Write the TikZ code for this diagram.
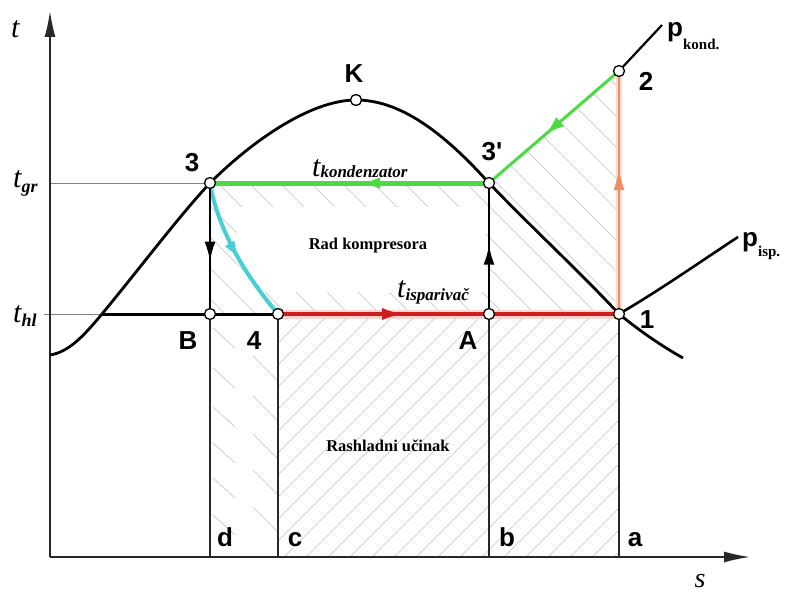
\documentclass[tikz,border=0pt]{standalone}
\usepackage{fontspec}
\setmainfont{Liberation Serif}
\setsansfont{Liberation Sans}
\usetikzlibrary{arrows.meta,decorations.markings}
\definecolor{grn}{RGB}{75,218,65}
\definecolor{grnd}{RGB}{60,200,50}
\definecolor{cyn}{RGB}{70,208,212}
\definecolor{redl}{RGB}{205,30,30}
\definecolor{orng}{RGB}{240,140,100}
\definecolor{hatchc}{RGB}{190,190,190}
\definecolor{axc}{RGB}{40,40,40}
\newcommand\tlab[3]{{\fontsize{30}{30}\selectfont\itshape t}\raisebox{-#3}{\fontsize{#2}{#2}\selectfont\itshape\bfseries #1}}
\begin{document}
\begin{tikzpicture}[x=1pt,y=-1pt,
  lbl/.style={font=\sffamily\bfseries\fontsize{26}{26}\selectfont, inner sep=0pt},
  txt/.style={font=\bfseries\fontsize{16.5}{16.5}\selectfont, inner sep=0pt},
  ptc/.style={circle,draw=black,fill=white,line width=1.3pt,minimum size=11pt,inner sep=0pt},
  hatchline/.style={hatchc,line width=0.55pt},
  thinline/.style={gray,line width=0.6pt},
  vline/.style={axc,line width=1.8pt},
  curveline/.style={black,line width=2.8pt},
  axisline/.style={axc,line width=1.6pt,-{Latex[length=26pt,width=11pt]}},
  midarr/.style 2 args={postaction={decorate},decoration={markings,mark=at position #1 with {\arrow{#2}}}}
]
\useasboundingbox (0,0) rectangle (787,594);
% key points
\coordinate (p3) at (210,183);
\coordinate (p3p) at (489,183);
\coordinate (pK) at (356,100);
\coordinate (p2) at (619,71);
\coordinate (p1) at (619,314);
\coordinate (pB) at (210,314);
\coordinate (p4) at (278,314);
\coordinate (pA) at (489,314);
\coordinate (pd) at (210,557);
\coordinate (pc) at (278,557);
\coordinate (pb) at (489,557);
\coordinate (pa) at (619,557);
\coordinate (O) at (50,557);
\coordinate (ytip) at (50,11);
\coordinate (xtip) at (750,557);
\coordinate (pS) at (50,355);
\coordinate (pL) at (102,314);
\coordinate (pE) at (683,358);
\coordinate (pkend) at (662,25);
\coordinate (piend) at (738,237);
\coordinate (gr0) at (50,183);
\coordinate (hl0) at (44,314);
% hatching: refrigeration effect
\begin{scope}
\clip (p4) rectangle (pa);
\foreach \i in {20,42,...,640} \draw[hatchline] (\i,557) -- ++(260,-260);
\end{scope}
% hatching: compressor work
\begin{scope}
\clip (p3) -- (p3p) -- (p2) -- (p1) -- (pB) -- cycle;
\foreach \i in {-60,-29,...,640} \draw[hatchline] (\i,60) -- ++(300,300);
\end{scope}
\fill[white] (226,207) -- (486,207) -- (486,292) -- (262,292) -- cycle;
% strip d-c
\foreach \y in {328,368,407,443,478,515} \draw[hatchline] (213,\y) -- ++(22,20);
\foreach \y in {356,396,434,470,507} \draw[hatchline] (253,\y) -- ++(24,24);
% thin level lines
\draw[thinline] (gr0) -- (p3);
\draw[thinline] (hl0) -- (pL);
% axes
\draw[axisline] (O) -- (ytip);
\draw[axisline] (O) -- (xtip);
% verticals
\draw[vline] (pB) -- (pd);
\draw[vline] (p4) -- (pc);
\draw[vline] (pA) -- (pb);
\draw[vline] (p1) -- (pa);
% saturation curve
\draw[curveline] (pS) .. controls (70,352) and (86,333) .. (pL)
  .. controls (140,268) and (180,215) .. (p3)
  .. controls (251,142) and (310,100) .. (pK)
  .. controls (405,100) and (450,140) .. (p3p)
  .. controls (530,226) and (580,272) .. (p1)
  .. controls (640,331) and (660,345) .. (pE);
% isobars
\draw[black,line width=2.2pt] (p2) -- (pkend);
\draw[black,line width=2.6pt] (p1) .. controls (660,290) and (700,262) .. (piend);
% liquid line
\draw[black,line width=3pt] (pL) -- (p4);
% process lines
\draw[red!18,line width=9pt] (p4) -- (p1);
\draw[redl,line width=3.5pt,midarr={0.37}{Latex[length=22pt,width=12pt]}] (p4) -- (p1);
\draw[grn,line width=5pt,midarr={0.47}{Latex[length=22pt,width=11pt]}] (p3p) -- (p3);
\draw[grn,line width=3pt,midarr={0.57}{Latex[length=20pt,width=12pt]}] (p2) -- (p3p);
\draw[cyn,line width=4pt,midarr={0.56}{Latex[length=20pt,width=11pt]}] (p3) .. controls (218,230) and (245,275) .. (p4);
\draw[orng!30,line width=6pt] (p1) -- (p2);
\draw[orng,line width=2.2pt,midarr={0.6}{Latex[length=22pt,width=11pt]}] (p1) -- (p2);
\draw[black,line width=2.6pt,midarr={0.6}{Latex[length=20pt,width=11pt]}] (p3) -- (pB);
\draw[black,line width=2.6pt,midarr={0.53}{Latex[length=20pt,width=11pt]}] (pA) -- (p3p);
% state points
\node[ptc] (n3) at (p3) {};
\node[ptc] (n3p) at (p3p) {};
\node[ptc] (nK) at (pK) {};
\node[ptc] (n2) at (p2) {};
\node[ptc] (n1) at (p1) {};
\node[ptc] (nB) at (pB) {};
\node[ptc] (n4) at (p4) {};
\node[ptc] (nA) at (pA) {};
% point labels
\node[lbl] (l3) at (192,163) {3};
\node[lbl] (lK) at (354,74) {K};
\node[lbl] (l3p) at (492,152) {3\textquotesingle};
\node[lbl] (l2) at (646,81) {2};
\node[lbl] (l1) at (647,320) {1};
\node[lbl] (lB) at (188,341) {B};
\node[lbl] (l4) at (254,341) {4};
\node[lbl] (lA) at (468,341) {A};
\node[lbl,anchor=base] (ld) at (225,546) {d};
\node[lbl,anchor=base] (lc) at (295,546) {c};
\node[lbl,anchor=base] (lb) at (507,546) {b};
\node[lbl,anchor=base] (la) at (635,546) {a};
% pressure labels
\node[anchor=base west,inner sep=0pt] (lpk) at (667,37) {{\sffamily\bfseries\fontsize{26}{26}\selectfont p}\raisebox{-13pt}{\bfseries\fontsize{15}{15}\selectfont kond.}};
\node[anchor=base west,inner sep=0pt] (lpi) at (742,246) {{\sffamily\bfseries\fontsize{26}{26}\selectfont p}\raisebox{-10pt}{\bfseries\fontsize{15}{15}\selectfont isp.}};
% axis and temperature labels
\node[anchor=base west,inner sep=0pt] (lt) at (11,38) {\fontsize{30}{30}\selectfont\itshape t};
\node[anchor=base,inner sep=0pt] (ls) at (700,587) {\fontsize{28}{28}\selectfont\itshape s};
\node[anchor=base west,inner sep=0pt] (ltgr) at (13,187) {\tlab{gr}{18}{5pt}};
\node[anchor=base west,inner sep=0pt] (lthl) at (13,322) {\tlab{hl}{18}{4pt}};
\node[anchor=base west,inner sep=0pt] (ltk) at (312,176) {\tlab{kondenzator}{17}{1pt}};
\node[anchor=base west,inner sep=0pt] (lti) at (397,297) {\tlab{isparivač}{17}{3pt}};
% area texts
\node[txt] (trad) at (368,246) {Rad kompresora};
\node[txt] (tras) at (388,446) {Rashladni učinak};
\end{tikzpicture}
\end{document}
